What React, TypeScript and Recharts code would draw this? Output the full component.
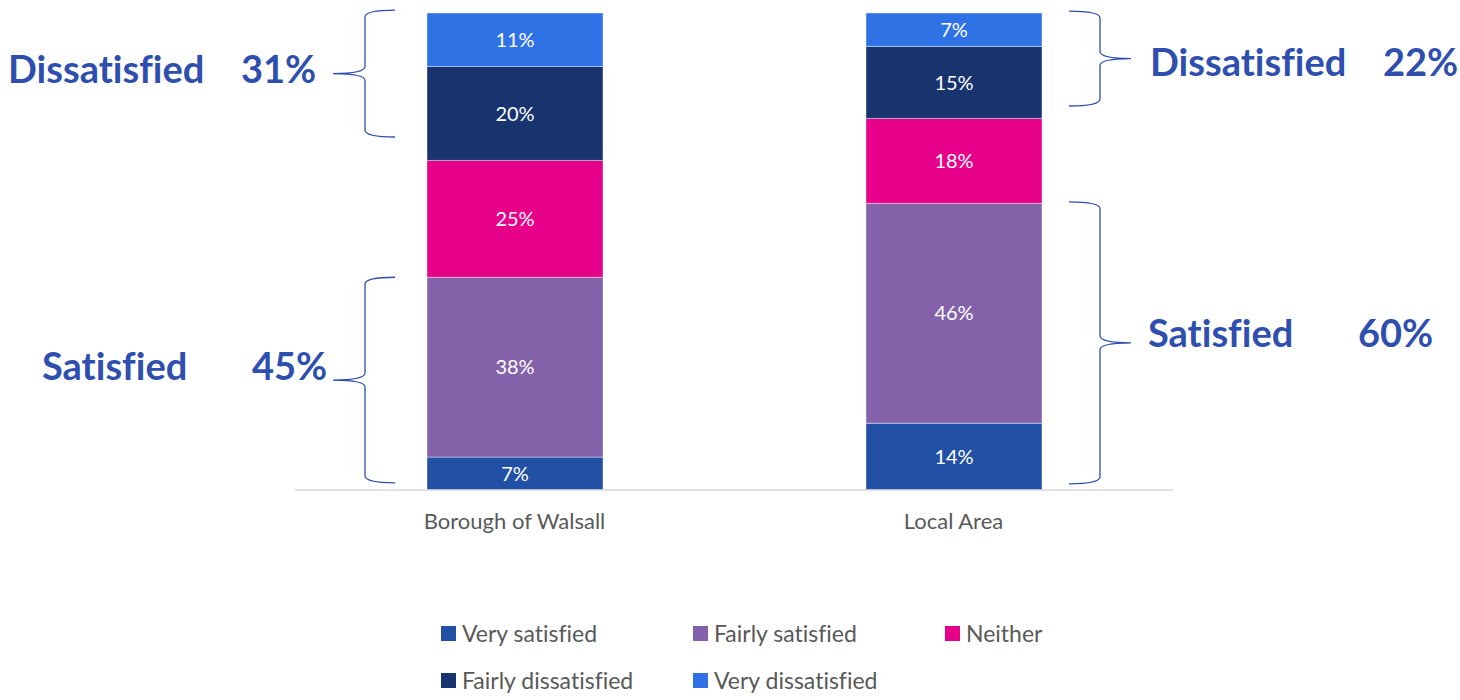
import React from 'react';
import { BarChart, Bar, XAxis, YAxis, LabelList, Legend, ReferenceArea } from 'recharts';

// ---------- data ----------
const categories = ['Borough of Walsall', 'Local Area'];
const verySatisfied = [6.9, 14.0];
const fairlySatisfied = [37.7, 46.1];
const neither = [24.5, 17.8];
const fairlyDissatisfied = [19.7, 15.1];
const veryDissatisfied = [11.2, 7.0];

const seriesNames = ['Very satisfied', 'Fairly satisfied', 'Neither', 'Fairly dissatisfied', 'Very dissatisfied'];
const seriesKeys = ['vs', 'fs', 'n', 'fd', 'vd'];
const seriesValues = [verySatisfied, fairlySatisfied, neither, fairlyDissatisfied, veryDissatisfied];
const seriesColors = ['#2150A5', '#8462AA', '#E6008A', '#17346F', '#2E72E6'];

// summary brackets
const summaryLabels = ['Dissatisfied', 'Satisfied', 'Dissatisfied', 'Satisfied'];
const summaryValues = [31, 45, 22, 60];
const braceLow = [74.0, 1.5, 80.5, 1.3];
const braceHigh = [100.6, 44.6, 100.4, 60.4];

// ---------- layout of annotations (pixels) ----------
const annotationLayout = [
  { xv: 365, xe: 395, xt: 333, textX: 8, pctX: 241, dy: 9 },
  { xv: 365, xe: 395, xt: 333, textX: 42, pctX: 252, dy: 0 },
  { xv: 1100, xe: 1069, xt: 1131, textX: 1150, pctX: 1383, dy: 17 },
  { xv: 1100, xe: 1069, xt: 1131, textX: 1148, pctX: 1358, dy: 4 },
];

const data = categories.map((name, i) => {
  const row: any = { name };
  seriesKeys.forEach((k, j) => {
    row[k] = seriesValues[j][i];
  });
  return row;
});

const ANNOT_COLOR = '#2F4FAF';
const noLig: any = { fontVariantLigatures: 'none', fontFeatureSettings: '"liga" 0' };

function makeBrace(idx: number) {
  const L = annotationLayout[idx];
  return (props: any) => {
    const top = props.y;
    const bottom = props.y + props.height;
    const mid = (top + bottom) / 2;
    const r = 7;
    const { xv, xe, xt } = L;
    const d = [
      `M ${xe} ${top}`,
      `Q ${xv} ${top} ${xv} ${top + r}`,
      `L ${xv} ${mid - r}`,
      `Q ${xv} ${mid} ${xt} ${mid}`,
      `Q ${xv} ${mid} ${xv} ${mid + r}`,
      `L ${xv} ${bottom - r}`,
      `Q ${xv} ${bottom} ${xe} ${bottom}`,
    ].join(' ');
    return (
      <g>
        <path d={d} fill="none" stroke={ANNOT_COLOR} strokeWidth={1.3} />
        <text x={L.textX} y={mid + L.dy} fill={ANNOT_COLOR} fontSize={38} fontWeight={700} fontFamily="Lato" style={noLig}>
          {summaryLabels[idx]}
        </text>
        <text x={L.pctX} y={mid + L.dy} fill={ANNOT_COLOR} fontSize={38} fontWeight={700} fontFamily="Lato" style={noLig}>
          {`${summaryValues[idx]}%`}
        </text>
      </g>
    );
  };
}

const renderLegend = (props: any) => {
  const payload = [...(props.payload || [])].sort(
    (a: any, b: any) => seriesNames.indexOf(a.value) - seriesNames.indexOf(b.value)
  );
  return (
    <div
      style={{
        display: 'grid',
        gridTemplateColumns: 'repeat(3, 252px)',
        rowGap: 21,
        marginLeft: 441,
        fontFamily: 'Lato',
        ...noLig,
      }}
    >
      {payload.map((p: any) => (
        <div key={p.value} style={{ display: 'flex', alignItems: 'center', height: 26 }}>
          <span style={{ width: 15, height: 15, background: p.color, display: 'inline-block', marginRight: 6 }} />
          <span style={{ fontSize: 23, color: '#595959' }}>{p.value}</span>
        </div>
      ))}
    </div>
  );
};

export default function App() {
  return (
    <div style={{ position: 'absolute', left: 0, top: 0, width: 1460, height: 700, background: '#fff', fontFamily: 'Lato' }}>
      <BarChart
        width={1460}
        height={700}
        data={data}
        margin={{ top: 13, right: 287, bottom: 180, left: 295 }}
        barSize={176}
      >
        <XAxis
          dataKey="name"
          axisLine={{ stroke: '#D9D9D9', strokeWidth: 1.5 }}
          tickLine={false}
          tickMargin={17}
          height={30}
          tick={{ fill: '#595959', fontSize: 22, fontFamily: 'Lato' }}
        />
        <YAxis hide domain={[0, 100]} type="number" allowDataOverflow />
        {seriesKeys.map((k, j) => (
          <Bar
            key={k}
            dataKey={k}
            name={seriesNames[j]}
            stackId="a"
            fill={seriesColors[j]}
            stroke="#ffffff"
            strokeWidth={0.4}
            isAnimationActive={false}
          >
            <LabelList
              dataKey={k}
              position="center"
              fill="#ffffff"
              fontSize={20}
              fontFamily="Lato"
              formatter={(v: any) => `${Math.round(Number(v))}%`}
            />
          </Bar>
        ))}
        {summaryValues.map((_, i) => (
          <ReferenceArea
            key={`brace-${i}`}
            y1={braceLow[i]}
            y2={braceHigh[i]}
            ifOverflow="visible"
            shape={makeBrace(i)}
          />
        ))}
        <Legend
          layout="horizontal"
          verticalAlign="middle"
          align="center"
          content={renderLegend}
          wrapperStyle={{ left: 0, top: 620, width: 1460 }}
        />
      </BarChart>
    </div>
  );
}
